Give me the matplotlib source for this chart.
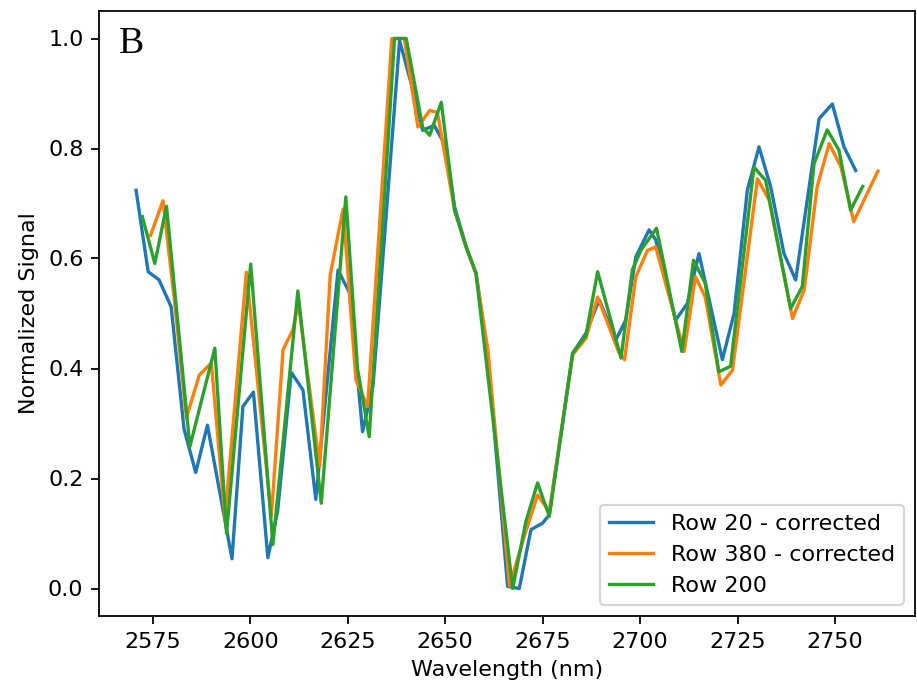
import numpy as np
import matplotlib
matplotlib.use("Agg")
import matplotlib.pyplot as plt

# Row 20 - corrected
wl_row20 = [2570.7, 2573.8, 2576.6, 2579.7, 2583.0, 2586.0, 2589.0, 2595.3, 2598.1,
            2600.8, 2604.5, 2607.0, 2610.5, 2613.5, 2616.8, 2622.5, 2625.5, 2628.8,
            2631.5, 2638.3, 2641.2, 2644.2, 2647.2, 2650.2, 2652.4, 2655.4, 2657.9,
            2661.0, 2666.0, 2669.0, 2672.0, 2675.0, 2676.7, 2682.7, 2686.1, 2689.5,
            2693.8, 2696.3, 2698.9, 2702.3, 2704.0, 2709.1, 2712.1, 2715.1, 2721.1,
            2724.1, 2727.5, 2730.5, 2733.5, 2736.9, 2739.9, 2745.9, 2749.3, 2752.3,
            2755.3]
sig_row20 = [0.724, 0.576, 0.561, 0.512, 0.290, 0.211, 0.297, 0.054, 0.331,
             0.357, 0.056, 0.140, 0.393, 0.361, 0.162, 0.579, 0.537, 0.285,
             0.370, 0.996, 0.920, 0.833, 0.842, 0.803, 0.694, 0.621, 0.573,
             0.420, 0.004, 0.000, 0.107, 0.119, 0.134, 0.428, 0.464, 0.525,
             0.452, 0.488, 0.603, 0.652, 0.634, 0.488, 0.518, 0.609, 0.416,
             0.500, 0.724, 0.803, 0.730, 0.609, 0.561, 0.854, 0.881, 0.803,
             0.760]

# Row 380 - corrected
wl_row380 = [2574.4, 2577.6, 2580.6, 2583.6, 2586.9, 2590.0, 2593.5, 2599.0, 2605.4,
             2608.4, 2610.9, 2612.3, 2617.8, 2620.5, 2623.8, 2627.1, 2630.1, 2636.3,
             2639.5, 2643.0, 2646.0, 2648.0, 2652.4, 2655.4, 2657.9, 2661.0, 2666.5,
             2670.5, 2673.7, 2676.7, 2682.7, 2686.1, 2689.1, 2694.5, 2696.0, 2698.9,
             2701.9, 2704.0, 2711.3, 2714.2, 2716.7, 2720.7, 2723.7, 2730.1, 2733.1,
             2739.1, 2742.1, 2745.4, 2748.5, 2751.5, 2754.8, 2761.0]
sig_row380 = [0.642, 0.705, 0.520, 0.310, 0.388, 0.410, 0.128, 0.575, 0.131,
              0.434, 0.470, 0.520, 0.222, 0.570, 0.690, 0.379, 0.331, 1.000,
              1.000, 0.839, 0.869, 0.866, 0.688, 0.620, 0.573, 0.430, 0.005,
              0.100, 0.170, 0.140, 0.425, 0.455, 0.530, 0.430, 0.416, 0.567,
              0.615, 0.621, 0.431, 0.567, 0.530, 0.370, 0.397, 0.745, 0.706,
              0.491, 0.543, 0.730, 0.809, 0.767, 0.667, 0.759]

# Row 200
wl_row200 = [2572.3, 2575.5, 2578.5, 2584.5, 2590.9, 2593.9, 2600.1, 2605.8, 2612.2,
             2618.2, 2624.5, 2627.5, 2630.5, 2637.0, 2640.0, 2644.2, 2646.0, 2649.0,
             2652.4, 2655.4, 2657.9, 2667.3, 2670.7, 2673.7, 2676.7, 2682.7, 2686.1,
             2689.1, 2695.1, 2698.0, 2700.2, 2704.2, 2710.7, 2713.7, 2716.7, 2720.2,
             2723.2, 2729.2, 2732.2, 2738.6, 2741.6, 2744.6, 2748.0, 2751.0, 2754.0,
             2757.1]
sig_row200 = [0.676, 0.591, 0.695, 0.258, 0.437, 0.100, 0.590, 0.080, 0.541,
              0.155, 0.712, 0.400, 0.276, 1.000, 1.000, 0.839, 0.824, 0.884,
              0.688, 0.620, 0.573, 0.000, 0.122, 0.192, 0.131, 0.428, 0.460,
              0.576, 0.419, 0.579, 0.615, 0.655, 0.431, 0.597, 0.555, 0.394,
              0.404, 0.766, 0.742, 0.509, 0.549, 0.772, 0.834, 0.797, 0.688,
              0.731]

fig = plt.figure(figsize=(917 / 160, 693 / 160), dpi=160)
ax = fig.add_axes([99 / 917, (693 - 616) / 693, (915 - 99) / 917, (616 - 11) / 693])

ax.plot(wl_row20, sig_row20, label="Row 20 - corrected")
ax.plot(wl_row380, sig_row380, label="Row 380 - corrected")
ax.plot(wl_row200, sig_row200, label="Row 200")

ax.set_xlabel("Wavelength (nm)")
ax.set_ylabel("Normalized Signal")
ax.set_yticks(np.arange(0, 1.01, 0.2))
ax.legend(loc="lower right")

ax.text(0.025, 0.975, "B", transform=ax.transAxes, ha="left", va="top",
        fontsize=17, family="Liberation Serif")

fig.savefig("out.png", dpi=160)
